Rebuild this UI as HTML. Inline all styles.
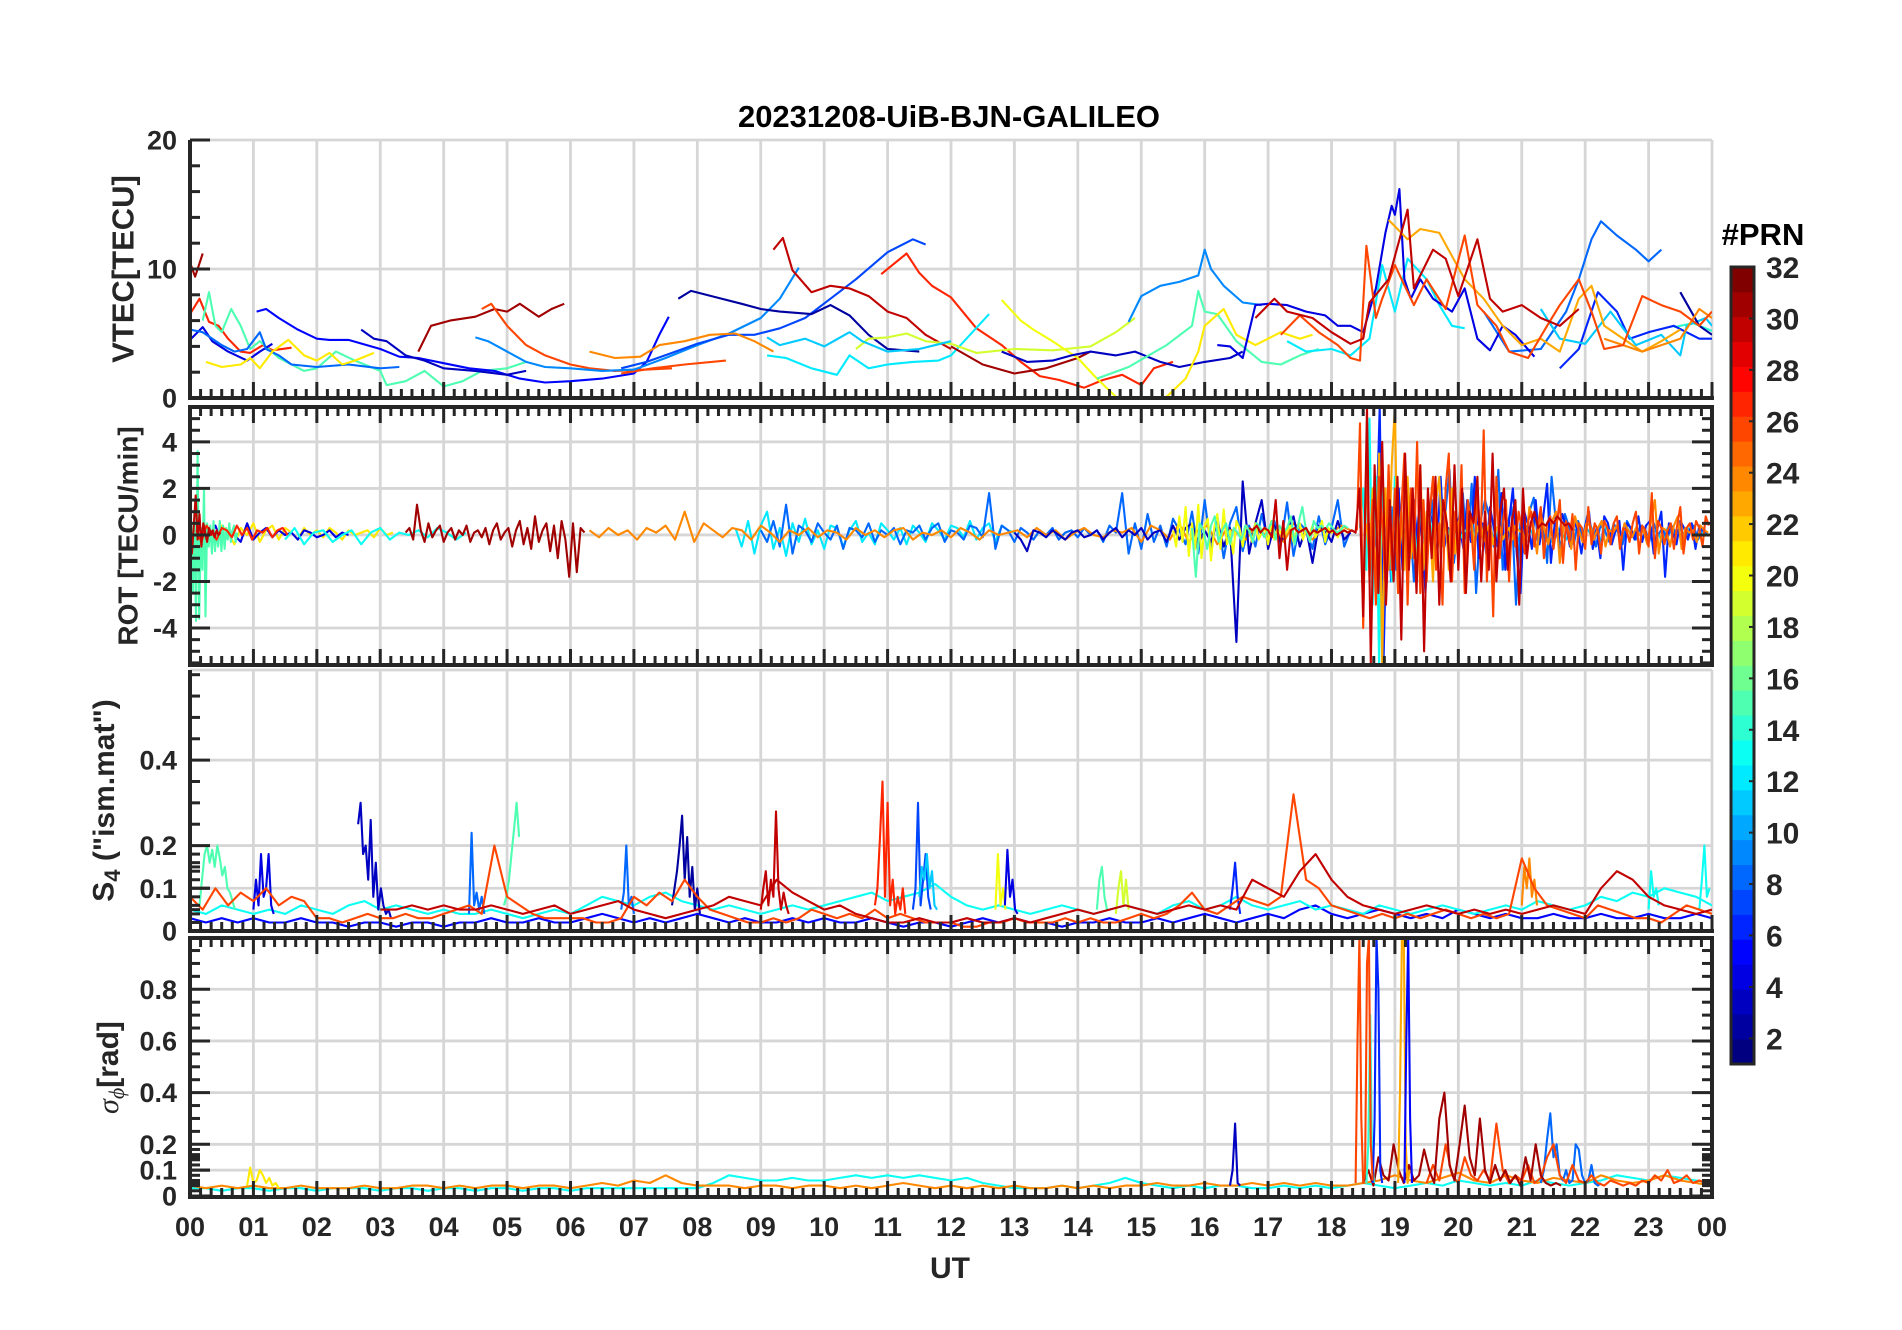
<!DOCTYPE html>
<html>
<head>
<meta charset="utf-8">
<style>
  html,body{margin:0;padding:0;background:#fff;}
  svg{display:block;font-family:"Liberation Sans",Arial,sans-serif;}
</style>
</head>
<body>
<svg id="fig" width="1902" height="1330" viewBox="0 0 1902 1330" xmlns="http://www.w3.org/2000/svg">
  <rect x="0" y="0" width="1902" height="1330" fill="#ffffff"/>
  <text x="949" y="127" text-anchor="middle" font-size="31" font-weight="bold" fill="#000">20231208-UiB-BJN-GALILEO</text>
  <text x="950" y="1278" text-anchor="middle" font-size="30" font-weight="bold" fill="#262626">UT</text>
  <g id="panels"></g>
  <g id="cbar"></g>
</svg>
<script>
// ---------------- DATA ----------------
const vtec_p31a=[[0,10.5],[0.08,9.4],[0.2,11.2]];
const vtec_p27a=[[0,6.5],[0.15,7.7],[0.3,5.9],[0.45,5.6],[0.6,4.6],[0.8,3.6],[0.95,3.5],[1.15,4.1],[1.3,3.7],[1.6,3.9]];
const vtec_p15a=[[0.2,6.0],[0.3,8.2],[0.4,5.6],[0.5,5.1],[0.65,6.9],[0.8,5.6],[0.95,3.8],[1.1,4.4],[1.4,3.1],[1.8,2.1],[2.0,2.3],[2.3,3.6],[2.6,2.9],[3.0,2.1],[3.1,1.0],[3.4,1.3],[3.7,2.1],[4.0,0.9],[4.3,1.3],[4.6,2.1],[5.0,2.3],[5.3,2.8]];
const vtec_p4a=[[0,4.5],[0.2,5.5],[0.35,4.4],[0.6,3.6],[0.9,2.9],[1.1,3.6],[1.3,4.2]];
const vtec_p8a=[[0,5.3],[0.2,5.1],[0.5,4.1],[0.7,3.6],[0.9,3.8],[1.1,5.1],[1.2,3.8],[1.4,3.3],[1.6,2.6],[2,2.4],[2.5,2.6],[3,2.3],[3.3,2.4]];
const vtec_p21a=[[0.25,2.8],[0.5,2.4],[0.8,2.6],[0.95,3.1],[1.1,2.3],[1.3,3.6],[1.55,4.5],[1.8,3.3],[2.0,2.9],[2.2,3.5],[2.4,2.6],[2.6,2.9],[2.9,3.5]];
const vtec_p5a=[[1.05,6.7],[1.2,6.9],[1.4,6.2],[1.7,5.3],[2.0,4.6],[2.2,4.5],[2.5,4.5],[3.0,3.8],[3.3,3.2],[3.6,3.1],[4,2.7],[4.4,2.3],[4.8,2.1],[5.2,1.5],[5.6,1.2],[6,1.3],[6.5,1.5],[7,1.9],[7.2,2.8],[7.4,4.9],[7.55,6.3]];
const vtec_p3a=[[2.7,5.3],[2.9,4.6],[3.1,4.4],[3.4,3.3],[3.7,2.9],[4,2.3],[4.5,2.1],[5,1.8],[5.3,2.1]];
const vtec_p31b=[[3.6,3.6],[3.8,5.6],[4.1,6.0],[4.5,6.3],[4.8,6.9],[5.0,6.7],[5.2,7.3],[5.5,6.3],[5.7,6.9],[5.9,7.3]];
const vtec_p26a=[[4.6,6.9],[4.75,7.3],[5.0,5.6],[5.3,4.1],[5.6,3.3],[6,2.6],[6.3,2.3],[6.7,2.1],[7.2,2.2],[7.6,2.3]];
const vtec_p26b=[[6.8,1.9],[7.3,2.3],[7.8,2.6],[8.45,2.9]];
const vtec_p9a=[[4.5,4.7],[4.7,4.4],[5.0,3.6],[5.3,2.8],[5.6,2.4],[6,2.3],[6.5,2.1],[7.0,2.2],[7.5,3.1],[8,4.1],[8.5,5.0],[9,6.2],[9.3,7.7],[9.6,10.1]];
const vtec_p7a=[[6.8,2.3],[7.2,2.8],[7.6,3.5],[8,4.2],[8.5,4.9],[8.9,4.9],[9.3,5.4],[9.7,6.2],[10.1,7.7],[10.5,9.2],[11,11.3],[11.4,12.3],[11.6,11.9]];
const vtec_p2a=[[7.7,7.7],[7.9,8.3],[8.3,7.8],[8.7,7.3],[9.0,6.9],[9.3,6.7],[9.8,6.5],[10.1,7.2],[10.4,6.4],[10.7,4.9],[11.0,3.8],[11.5,3.6]];
const vtec_p30a=[[9.2,11.5],[9.35,12.4],[9.5,9.9],[9.8,8.2],[10.1,8.7],[10.4,8.5],[10.7,7.9],[11.0,6.7],[11.3,6.2],[11.6,4.9],[12,3.8]];
const vtec_p27b=[[10.9,9.6],[11.1,10.4],[11.3,11.2],[11.5,9.7],[11.7,8.7],[12,7.8],[12.4,5.4],[12.8,4.1],[13.1,2.8],[13.4,1.7],[13.7,1.4],[14.1,0.8],[14.4,1.4],[14.7,1.8],[15.0,1.0],[15.2,2.3],[15.5,2.8]];
const vtec_p24a=[[6.3,3.6],[6.7,3.1],[7.1,3.2],[7.4,4.1],[7.8,4.4],[8.2,4.9],[8.6,5.0],[8.9,4.4],[9.2,3.6]];
const vtec_p12a=[[9.1,3.3],[9.4,3.1],[9.8,2.3],[10.2,1.8],[10.4,3.3],[10.7,2.3],[11,2.6],[11.4,2.8],[11.8,2.9],[12,3.3],[12.3,4.9],[12.6,6.5]];
const vtec_p19a=[[10.5,3.8],[10.7,4.6],[11,4.7],[11.3,5.0],[11.6,4.4],[12,4.2],[12.4,3.5],[13,3.8],[13.6,3.7],[14.2,4.0],[14.6,5.1],[14.9,6.2]];
const vtec_p11a=[[9.1,4.7],[9.3,4.1],[9.7,4.6],[10.0,4.0],[10.4,5.1],[10.6,4.4],[11,3.6],[11.5,3.8],[12,4.4]];
const vtec_p31c=[[12,4.0],[12.5,2.6],[13,1.9],[13.5,2.3],[14,3.1],[14.2,3.6]];
const vtec_p20a=[[12.8,7.6],[13.1,6.0],[13.3,5.3],[13.6,4.4],[14,3.1],[14.3,1.5],[14.6,0.1]];
const vtec_p3b=[[12.8,3.6],[13.2,2.8],[13.6,2.9],[13.9,3.3],[14.2,3.6],[14.6,3.3],[14.9,3.6],[15.3,2.8],[15.6,2.4],[16,2.8],[16.4,3.1],[16.6,3.6]];
const vtec_p15b=[[14.3,1.5],[14.8,2.4],[15.4,4.1],[15.8,5.6],[15.9,8.3],[16.0,6.7],[16.2,6.5],[16.5,4.4],[16.9,2.8],[17.2,2.6],[17.5,3.3],[17.8,3.8]];
const vtec_p9b=[[14.8,5.9],[15.0,7.9],[15.3,8.7],[15.6,9.0],[15.9,9.5],[16.0,11.5],[16.1,10.0],[16.3,8.7],[16.6,7.4],[16.9,7.2]];
const vtec_p21b=[[15.4,0.1],[15.7,1.5],[15.9,3.6],[16.0,5.6],[16.3,6.9],[16.5,4.9],[16.8,4.1],[17.2,5.1],[17.5,4.6],[17.7,4.9]];
const vtec_p4b=[[16.2,4.1],[16.4,4.0],[16.6,3.1],[16.8,7.2],[17.0,7.3],[17.3,7.2],[17.6,6.7],[17.9,6.4],[18.1,5.6],[18.3,5.6],[18.5,5.1],[18.7,8.5],[18.85,12.8],[18.95,14.9],[19.0,14.2],[19.07,16.2],[19.15,9.2],[19.25,7.7],[19.4,9.2],[19.6,7.7],[19.9,6.7],[20.1,8.5],[20.3,4.6],[20.5,3.7],[20.7,5.6],[20.9,4.9],[21.2,3.2]];
const vtec_p30b=[[16.8,6.2],[17.1,7.7],[17.3,6.7],[17.7,6.2],[18.0,5.1],[18.3,4.2],[18.5,4.6],[18.6,7.4],[18.9,9.2],[19.2,14.6],[19.3,8.5],[19.6,11.5],[19.8,10.8],[20.0,7.9],[20.3,12.3],[20.5,7.7],[20.7,6.7],[21.0,7.2],[21.3,6.2],[21.6,5.6],[21.9,6.9]];
const vtec_p12b=[[17.3,4.4],[17.6,3.6],[18.0,3.8],[18.3,3.3],[18.6,4.6],[18.8,10.3],[19.0,6.7],[19.2,10.8],[19.5,9.2],[19.7,7.2],[19.9,5.6],[20.1,5.4]];
const vtec_p26c=[[17.2,4.9],[17.5,6.4],[17.8,5.1],[18.1,4.1],[18.3,3.1],[18.45,2.9],[18.55,11.8],[18.7,6.2],[18.8,7.7],[19.0,10.3],[19.3,7.2],[19.5,9.2],[19.8,6.9],[20.1,12.6],[20.3,7.2],[20.6,5.6],[20.8,3.6],[21.1,3.1],[21.4,5.6],[21.6,7.2],[21.9,9.2],[22.1,6.7],[22.3,3.8],[22.6,4.1],[22.9,7.9],[23.2,7.2],[23.5,6.7],[23.8,5.6],[24,6.7]];
const vtec_p23a=[[18.9,13.8],[19.2,12.3],[19.4,13.1],[19.7,12.8],[19.9,11.0],[20.1,9.2],[20.4,7.7],[20.7,5.6],[21,4.1],[21.3,4.6],[21.6,3.6],[21.9,7.7],[22.1,8.7],[22.3,5.6],[22.6,4.6],[22.9,3.6],[23.2,4.4],[23.5,5.3]];
const vtec_p8b=[[20.4,6.7],[20.8,3.6],[21.3,3.8],[21.7,6.7],[21.9,9.2],[22.1,12.3],[22.25,13.7],[22.5,12.6],[22.8,11.5],[23.0,10.6],[23.2,11.5]];
const vtec_p6a=[[21.6,2.3],[21.9,3.8],[22.2,8.2],[22.5,6.7],[22.7,4.6],[23.0,5.1],[23.4,5.6],[23.8,4.6],[24,4.6]];
const vtec_p11b=[[21.3,6.9],[21.6,4.6],[22.0,4.2],[22.4,6.7],[22.8,4.1],[23.2,4.9],[23.5,3.3],[23.6,5.6],[23.9,6.2],[24,5.6]];
const vtec_p24b=[[22.3,4.6],[22.9,3.6],[23.5,4.6],[23.8,6.9],[24,6.2]];
const vtec_p2b=[[23.5,8.2],[23.8,5.6],[24,4.9]];
const vtec_p14a=[[23.4,5.5],[23.7,5.8],[24,5.2]];

const rot_p15a=[0.5,-2.5,1.0,-3.7,3.6,-3.6,0.3,-1.5,2.0,-3.5,0.5,-0.5,0.4,-0.8,0.6,-0.7,0.2,-0.5,0.6,-0.7,0.4,-0.6,0.3,-0.2,0.5,-0.3,0.2,0.4,-0.3,0.1];
const rot_p30a=[1.3,-0.8,0.4,1.7,-0.2,0.9,-0.5,0.5,0.1,-0.3,0.3,0.0,0.2,-0.1,0.2,0.0,0.1];
const rot_p27a=[0.2,-0.3,0.4,0.1,-0.2,0.3,0.2,-0.1,0.4,0.0,0.3,-0.2,0.2,0.1,0.3,-0.1,0.2,0.3,0.0];
const rot_p21a=[0.2,-0.3,0.4,0.1,-0.4,0.3,0.0,0.5,-0.3,0.2,0.4,-0.2,0.3,0.1,-0.2,0.3,0.0,0.2,-0.1,0.3,0.1,-0.2,0.2,0.0,0.1,0.2,-0.1,0.3,0.0,0.1];
const rot_p4a=[0.1,-0.5,0.3,-0.2,0.4,-0.3,0.2,0.0,-0.3,0.5,-0.2,0.1,0.3,-0.1,0.2,0.0,0.1,-0.2,0.2,0.1,-0.1,0.0,0.2,-0.1,0.1,0.0];
const rot_p13a=[-0.2,0.3,-0.4,0.1,0.2,-0.3,0.0,0.2,-0.4,0.1,0.3,-0.2,0.1,0.0,0.2,-0.1,0.3,0.1,-0.2,0.1];
const rot_p31a=[0.1,0.3,-0.2,1.3,0.2,-0.3,0.5,-0.1,0.2,0.4,-0.3,0.1,0.3,-0.2,0.2,0.0,0.4,-0.3,0.1,0.2,-0.1,0.3,-0.4,0.2,0.5,-0.2,0.1,0.3,-0.5,0.2,0.6,-0.4,0.3,-0.6,0.8,-0.3,0.2,0.5,-0.7,0.4,-1.0,0.6,-0.2,-1.8,0.5,-1.6,0.3,0.1];
const rot_p24a=[0.2,-0.1,0.3,0.0,0.2,-0.2,0.3,0.1,0.4,-0.2,1.0,-0.3,0.5,0.2,-0.1,0.3,0.2,-0.2,0.4,0.1,-0.3,0.2,0.0,0.3,-0.1,0.2,0.1,-0.2,0.3,0.0,0.2,-0.1,0.2,0.3,-0.2,0.1,0.0,0.2,-0.1,0.3,0.1,-0.2,0.2,0.0,0.1,0.2,-0.1,0.3,0.0,0.2,-0.2,0.1,0.3,0.0,-0.1,0.2,0.1,0.3,-0.3,0.4,0.2,-0.2,0.5,-0.3,0.2,0.4,-0.4,0.3,0.1,-0.2,0.4,0.0,0.3,-0.3,0.5,0.2,-0.2,0.3,0.1,0.4,0.2];
const rot_p12a=[0.3,-0.5,0.6,-0.8,0.4,1.0,-0.6,0.3,-0.9,0.5,-0.3,0.7,-0.4,0.2,-0.6,0.4,0.3,-0.5,0.2,0.6,-0.3,0.1,-0.4,0.5,0.2,-0.2,0.3,-0.4,0.4,0.1,-0.3,0.5,0.2,-0.2,0.4,0.3,-0.1,0.6,-0.2,0.3,0.5,-0.3,0.4,0.2,0.1];
const rot_p8a=[0.2,-0.3,0.6,-0.5,1.3,-0.8,0.4,0.2,-0.3,0.5,0.1,-0.2,0.4,-0.6,0.3,0.2,-0.1,0.5,-0.3,0.2,0.0,0.3,-0.4,0.2,0.1,0.4,-0.2,0.3,0.5,-0.3,0.2,0.1,-0.2,0.4,0.3,-0.1,1.8,-0.6,0.4,0.2,-0.3,0.3,0.1,-0.2,0.2,0.0,0.3,-0.2,0.1,0.2,-0.1,0.3,0.0,0.2,-0.3,0.4,0.1,1.8,-0.8,0.5,-0.6,0.9,-0.3,0.4,-0.5,0.7,0.2,-0.4,1.0,-0.8,1.5,-0.6,0.8,-1.0,0.5,1.2,-0.7,0.4,-0.5,0.9,-0.3,0.6,-0.4,1.4,-0.9,0.5,0.2,-0.6,0.8,-0.4,0.3,1.5,-0.5,0.2];
const rot_p3a=[0.1,-0.2,-0.7,0.2,0.1,-0.1,0.2,0.0,-0.2,0.1,0.2,-0.1,0.0,0.2,-0.2,0.1,0.3,-0.1,0.2,0.0,0.3,-0.2,0.1,0.2,-0.3,0.4,-0.2,0.3,0.5,-0.4,0.2,-0.3,0.6,-0.5,0.3,-4.6,2.3,-0.8,0.5,1.5,-0.6,0.4,-0.3,0.2,0.8,-0.5,0.3,-1.2,0.4,0.2,-0.3,0.6,-0.2,0.1];
const rot_p20a=[0.2,-0.5,0.8,-0.3,1.2,-0.9,0.5,-0.6,1.3,-1.0,0.4,0.7,-1.1,0.3,0.9,-0.6,1.1,-0.4,0.2,-0.8,0.6,0.3,-0.5,0.4,0.2,-0.3,0.5,-0.2,0.1,0.3,-0.4,0.6,-0.2,0.3,0.1,-0.1,0.2,0.4,-0.3,0.2,0.5,-0.2,0.3,0.0,0.4,-0.1,0.2,0.6,-0.3,0.3,0.1,0.2,-0.1,0.3,0.2,0.1];
const rot_p15b=[0.3,-1.8,0.5,0.2,-0.6,0.4,0.8,-0.3,0.2,0.5,-0.4,0.3,0.1,-0.2,0.4,0.2,-0.3,0.5,0.3,-0.1,0.2,0.6,-0.2,0.4,0.1,0.3,0.8,-0.4,0.5,1.2,0.2,-0.3,0.6,0.3,0.4,0.2,0.5,0.3,0.1,0.2,0.4,0.3];
const rot_p13b=[0.3,2.0,-1.5,5.0,-3.0,2.5,-5.5,3.0,-1.0,1.5,-2.0,2.5,-0.5,1.0,-1.5,2.0,-0.3,0.5,-1.0,1.2,0.3,-0.5,0.8,-0.4,0.6,0.2,-0.3,0.5,0.1,-0.2,0.4,0.3,-0.1,0.2,0.1,0.3,0.0,0.2,0.1,0.2];
const rot_p6a=[-0.5,5.5,-5.5,1.5,-2.0,1.0,2.0,-1.5,0.5,-1.0,1.5,-0.5,0.8,-2.5,1.0,0.5,-1.0,2.5,-0.5,0.3,-1.2,0.8,0.4,-0.6,1.5,-0.3,2.5,-1.0,0.5,-0.8,1.2,0.3,-0.5,1.8,-1.5,0.6,2.0,-0.8,-2.5,1.0,0.4,-0.6,1.5,-0.4,0.8,2.2,-1.2,0.5,-0.3,0.9,0.4,-0.5,0.6,0.2,-0.8,0.4,1.0,-0.6,0.3,-1.0,0.8,0.5,-0.4,0.2,0.6,-1.5,0.5,0.3,-0.2,0.8,-0.3,0.4,0.6,-0.8,0.3,1.0,-1.8,0.5,0.2,-0.4,0.6,0.3,-0.2,0.5,-0.6,0.4,0.2,0.1];
const rot_p8b=[0.5,-1.0,1.5,-0.8,0.3,1.2,-1.5,0.6,-0.4,1.0,-2.0,0.8,0.2,-0.6,1.5,-1.0,0.4,0.8,2.8,-1.2,0.5,1.8,-0.8,2.2,-2.5,0.6,1.5,0.8,-0.5,2.8,-1.5,0.4,1.2,-3.0,0.6,-0.8,1.0,1.6,-0.4,0.7,-1.2,2.5,0.5,-0.6,0.9,0.3,-0.4,0.6,-0.2,0.8,0.3,-0.5,0.4,0.2,-0.3,0.5,0.1,-0.4,0.6,0.2,-0.2,0.4,0.3,-0.3,0.5,0.0,0.3,-0.2,0.4,0.1,0.3,-0.1,0.2,0.4,-0.2,0.3,0.1];
const rot_p11a=[0.2,-0.3,0.5,-0.6,0.3,0.1,-0.4,0.4,0.2,-0.2,0.3,0.0,-0.3,0.4,0.1,-0.2,0.3,0.2,-0.1,0.3,0.0,0.2,-0.3,0.4,0.1,0.2,-0.2,0.3,0.0,0.1,0.4,-0.2,0.2,0.1,-0.3,0.3,0.0,0.2,-0.1,0.3,0.1,-0.2,0.2,0.0];
const rot_p24b=[0.3,-0.5,1.2,0.4,-0.8,0.9,0.2,-0.4,0.6,1.0,-1.2,0.5,0.3,-0.6,0.8,0.2,-0.3,0.5,0.4,-0.2,0.3,0.6,-0.5,0.2,0.1,0.4,-0.3,0.5,0.2,-0.1,0.3,0.0,0.2,-0.4,0.6,1.5,-0.8,0.3,0.2,-0.5,0.4,0.8,-0.6,0.3,0.1,0.2,-0.3,0.4,0.2,0.1];
const rot_p23a=[0.5,-1.0,2.0,-2.5,3.5,-5.5,2.0,-1.5,3.0,5.5,-2.5,1.0,-1.5,2.5,-1.0,0.5,-2.0,3.0,-1.5,1.0,0.5,-2.0,1.5,2.5,-0.5,1.0,-1.5,2.0,-0.8,0.5,1.0,-1.0,0.3,0.8,-0.5,0.3,0.6,-0.3,0.2,0.5,-0.4,0.3,0.4,-0.2,0.1,0.3,-0.2,0.4,0.2,0.1];
const rot_p26a=[0.2,4.8,-4.0,3.5,-2.0,1.5,-3.0,2.5,0.5,-2.0,3.0,-1.5,2.0,-2.5,1.0,3.5,-3.0,2.0,-1.0,4.0,-2.5,1.5,-2.0,1.0,2.5,-1.5,0.5,-3.0,2.0,3.5,-2.0,1.0,-1.0,3.0,-2.5,1.5,0.5,-1.5,2.0,-0.5,4.5,-2.0,1.0,-3.5,2.5,-1.0,0.5,1.5,-2.0,0.8,-0.5,1.0,0.3,-0.8,0.6,1.0,-0.5,0.3,1.2,-1.0,0.5,0.8,-0.6,0.4,1.5,-1.2,0.6,-0.3,0.9,-1.5,0.5,0.3,-0.6,1.2,-0.4,0.5,0.2,-0.8,0.6,0.3,-0.4,0.5,0.8,-0.6,0.3,0.2,-0.3,0.5,1.0,-0.8,0.4,0.2,-0.5,1.8,-1.0,0.6,0.3,-0.4,0.2,0.5,-0.6,0.4,1.2,-0.8,0.3,0.5,-0.2,0.6,0.3,-0.5,0.8,0.4];
const rot_p30b=[0.3,0.2,0.4,0.1,0.3,0.2,-0.1,1.5,-1.0,0.6,-1.5,0.2,0.3,0.1,0.2,0.3,0.0,0.2,0.1,0.2,0.3,0.1,0.2,0.0,0.1,0.2,0.1,0.2,0.1,2.0,-3.5,5.5,-5.5,3.0,-2.5,4.0,-3.0,1.5,-2.0,2.5,-4.5,3.5,-1.5,2.0,-2.5,3.0,-5.0,2.0,-1.0,2.5,-3.0,1.5,0.5,-2.0,3.0,-1.5,2.0,-2.5,1.0,0.5,2.5,-2.0,1.0,-1.5,3.5,-2.0,1.0,2.0,-1.5,0.5,1.5,-3.0,2.0,-1.0,0.5,1.0,0.3,0.5,0.4,0.7,0.5,0.8,0.6,0.4,0.5,0.2];

const s4_p5=[0.03,0.02,0.03,0.02,0.03,0.02,0.02,0.03,0.02,0.02,0.01,0.02,0.02,0.01,0.02,0.02,0.01,0.02,0.02,0.03,0.02,0.02,0.03,0.02,0.02,0.03,0.04,0.03,0.02,0.03,0.02,0.03,0.04,0.03,0.02,0.03,0.02,0.02,0.03,0.02,0.03,0.02,0.02,0.03,0.02,0.01,0.02,0.02,0.01,0.02,0.03,0.02,0.03,0.02,0.02,0.01,0.02,0.02,0.03,0.02,0.02,0.03,0.02,0.03,0.04,0.03,0.02,0.03,0.04,0.03,0.05,0.06,0.04,0.03,0.04,0.05,0.04,0.03,0.04,0.03,0.05,0.04,0.03,0.04,0.03,0.03,0.04,0.03,0.03,0.04,0.03,0.03,0.04,0.03,0.03,0.04,0.03];
const s4_p13=[0.05,0.04,0.06,0.05,0.04,0.05,0.04,0.06,0.05,0.04,0.06,0.07,0.05,0.06,0.05,0.04,0.05,0.04,0.04,0.05,0.04,0.03,0.04,0.05,0.04,0.06,0.08,0.07,0.06,0.08,0.09,0.07,0.06,0.05,0.06,0.05,0.04,0.05,0.06,0.05,0.06,0.07,0.08,0.09,0.07,0.08,0.09,0.11,0.08,0.06,0.05,0.06,0.05,0.04,0.05,0.06,0.05,0.04,0.05,0.06,0.05,0.04,0.06,0.07,0.05,0.06,0.08,0.06,0.05,0.06,0.07,0.05,0.06,0.05,0.04,0.06,0.05,0.04,0.05,0.06,0.05,0.04,0.05,0.06,0.05,0.07,0.06,0.05,0.06,0.08,0.07,0.09,0.08,0.10,0.09,0.08,0.06];
const s4_p30=[0.05,0.05,0.06,0.05,0.06,0.05,0.05,0.06,0.05,0.04,0.05,0.06,0.04,0.05,0.06,0.07,0.05,0.04,0.03,0.04,0.05,0.06,0.08,0.07,0.06,0.12,0.09,0.07,0.05,0.06,0.04,0.03,0.02,0.02,0.03,0.02,0.02,0.03,0.02,0.02,0.03,0.02,0.03,0.04,0.05,0.04,0.05,0.06,0.05,0.04,0.05,0.06,0.05,0.06,0.05,0.12,0.10,0.08,0.14,0.18,0.12,0.08,0.06,0.05,0.04,0.05,0.06,0.05,0.04,0.05,0.04,0.05,0.04,0.05,0.06,0.05,0.04,0.10,0.14,0.12,0.08,0.06,0.05,0.04,0.05];
const s4_p26=[0.08,0.05,0.1,0.06,0.09,0.07,0.1,0.06,0.08,0.07,0.03,0.03,0.02,0.03,0.04,0.03,0.03,0.04,0.03,0.03,0.04,0.05,0.06,0.04,0.2,0.08,0.06,0.04,0.03,0.03,0.03,0.03,0.02,0.02,0.03,0.08,0.06,0.09,0.07,0.12,0.08,0.05,0.04,0.03,0.02,0.02,0.03,0.02,0.03,0.05,0.04,0.03,0.04,0.03,0.05,0.03,0.04,0.03,0.02,0.02,0.02,0.01,0.01,0.02,0.02,0.03,0.02,0.02,0.02,0.03,0.02,0.03,0.02,0.02,0.03,0.04,0.03,0.04,0.06,0.09,0.05,0.04,0.06,0.08,0.07,0.06,0.08,0.32,0.12,0.10,0.06,0.05,0.04,0.03,0.04,0.03,0.04,0.03,0.04,0.05,0.04,0.03,0.04,0.03,0.04,0.17,0.10,0.06,0.05,0.04,0.03,0.06,0.05,0.04,0.03,0.03,0.02,0.04,0.06,0.05,0.04];
const s4b_p15a=[0.06,0.12,0.18,0.2,0.16,0.19,0.15,0.2,0.17,0.13,0.15,0.1,0.09,0.07,0.05];
const s4b_p15b=[0.06,0.08,0.12,0.18,0.24,0.3,0.22];
const s4b_p15c=[0.05,0.12,0.15,0.08,0.05];
const s4b_p4a=[0.05,0.12,0.06,0.18,0.08,0.1,0.18,0.06,0.04];
const s4b_p3a=[0.25,0.3,0.18,0.2,0.12,0.26,0.08,0.16,0.05,0.1,0.06,0.04,0.05,0.03];
const s4b_p8a=[0.04,0.23,0.06,0.09,0.05,0.08,0.04];
const s4b_p8b=[0.05,0.09,0.2,0.06,0.08,0.04];
const s4b_p2a=[0.06,0.1,0.14,0.2,0.27,0.12,0.22,0.08,0.15,0.05,0.1,0.04];
const s4b_p30a=[0.05,0.1,0.14,0.06,0.12,0.08,0.28,0.1,0.05,0.09,0.06,0.04];
const s4b_p27a=[0.06,0.1,0.22,0.35,0.08,0.3,0.06,0.12,0.04,0.08,0.05,0.1,0.04];
const s4b_p7a=[0.05,0.1,0.3,0.06,0.12,0.18,0.08,0.05];
const s4b_p11a=[0.08,0.15,0.12,0.18,0.1,0.14,0.06,0.05];
const s4b_p20a=[0.05,0.18,0.06,0.1,0.05];
const s4b_p4b=[0.06,0.19,0.08,0.12,0.05,0.04];
const s4b_p19a=[0.04,0.1,0.14,0.06,0.12,0.05];
const s4b_p6a=[0.05,0.1,0.16,0.08,0.04];
const s4b_p24a=[0.06,0.15,0.1,0.17,0.08,0.12,0.06];
const s4b_p13a=[0.05,0.14,0.08,0.1,0.06];
const s4b_p13b=[0.05,0.12,0.2,0.08,0.1];

const sp_p24=[0.04,0.03,0.04,0.03,0.04,0.03,0.03,0.04,0.03,0.03,0.03,0.04,0.03,0.03,0.04,0.04,0.03,0.04,0.03,0.04,0.04,0.03,0.04,0.04,0.03,0.04,0.05,0.04,0.06,0.05,0.08,0.05,0.04,0.04,0.04,0.03,0.04,0.04,0.03,0.04,0.04,0.03,0.04,0.03,0.04,0.05,0.04,0.03,0.04,0.03,0.04,0.03,0.04,0.03,0.03,0.04,0.03,0.04,0.03,0.04,0.04,0.05,0.04,0.04,0.05,0.04,0.04,0.05,0.04,0.05,0.04,0.05,0.04,0.04,0.05,0.06,0.08,0.06,0.05,0.07,0.09,0.06,0.05,0.08,0.06,0.05,0.07,0.06,0.05,0.08,0.06,0.05,0.06,0.08,0.06,0.05,0.04];
const sp_p13=[0.03,0.03,0.02,0.03,0.03,0.02,0.03,0.03,0.02,0.03,0.03,0.03,0.02,0.03,0.03,0.02,0.03,0.03,0.02,0.03,0.03,0.02,0.03,0.03,0.02,0.03,0.03,0.03,0.03,0.03,0.03,0.03,0.03,0.05,0.08,0.07,0.06,0.06,0.07,0.06,0.06,0.07,0.08,0.07,0.08,0.07,0.08,0.07,0.06,0.07,0.05,0.04,0.03,0.03,0.03,0.04,0.03,0.04,0.05,0.07,0.05,0.04,0.03,0.04,0.03,0.04,0.04,0.03,0.03,0.04,0.03,0.04,0.03,0.04,0.05,0.04,0.03,0.04,0.05,0.04,0.06,0.05,0.04,0.05,0.04,0.06,0.05,0.04,0.05,0.06,0.08,0.07,0.06,0.08,0.07,0.06,0.05];
const sp_p21=[0.04,0.11,0.05,0.06,0.1,0.08,0.05,0.07,0.04,0.05,0.03];
const sp_p26a=[0.05,0.6,1.0,0.3,0.05,0.1,0.9,1.0,0.2,0.06];
const sp_p14a=[0.05,0.2,0.7,0.15,0.05];
const sp_p6a=[0.05,0.3,1.0,0.8,0.1,0.05];
const sp_p23a=[0.05,0.4,1.0,1.0,0.2,0.05,0.1];
const sp_p5a=[0.05,0.6,1.0,0.3,0.05];
const sp_p31a=[0.05,0.1,0.04,0.15,0.08,0.06,0.2,0.1,0.05,0.12,0.06,0.08,0.18,0.1,0.05,0.3,0.4,0.12,0.06,0.2,0.35,0.15,0.08,0.3,0.1,0.05,0.12,0.06,0.1,0.05,0.08,0.04,0.15,0.06,0.2,0.08,0.05,0.04,0.05,0.04];
const sp_p26b=[0.05,0.12,0.06,0.2,0.08,0.05,0.15,0.08,0.06,0.1,0.06,0.28,0.1,0.05,0.08,0.06,0.12,0.05,0.07,0.15,0.2,0.08,0.05,0.12,0.06,0.05,0.08,0.05,0.04,0.06,0.05,0.04,0.05,0.04,0.06,0.05,0.08,0.06,0.1,0.05,0.06,0.08,0.05,0.06,0.05,0.04];
const sp_p8a=[0.05,0.1,0.22,0.32,0.15,0.2,0.08,0.06,0.1,0.05,0.06,0.2,0.18,0.08,0.05,0.06,0.12,0.05,0.04,0.05];
const sp_p3a=[0.04,0.1,0.28,0.05,0.04];

const xTickLabels=["00","01","02","03","04","05","06","07","08","09","10","11","12","13","14","15","16","17","18","19","20","21","22","23","00"];
const vtecTicks=[0,10,20];
const rotTicks=[-4,-2,0,2,4];
const s4Ticks=[0,0.1,0.2,0.4];
const sigTicks=[0,0.1,0.2,0.4,0.6,0.8];
const cbarTicks=[2,4,6,8,10,12,14,16,18,20,22,24,26,28,30,32];

// ---------------- DRAWING ----------------
const NS="http://www.w3.org/2000/svg";
const svg=document.getElementById('fig');
const panelsG=document.getElementById('panels');
const X0=190,X1=1712;
const AX="#262626",GRID="#d6d6d6";
function el(tag,attrs,parent){const e=document.createElementNS(NS,tag);for(const k in attrs)e.setAttribute(k,attrs[k]);(parent||svg).appendChild(e);return e;}
function jet(p){const t=(p-1)/31;const c=v=>Math.max(0,Math.min(1,v));
  const r=c(Math.min(4*t-1.5,-4*t+4.5)),g=c(Math.min(4*t-0.5,-4*t+3.5)),b=c(Math.min(4*t+0.5,-4*t+2.5));
  return `rgb(${Math.round(r*255)},${Math.round(g*255)},${Math.round(b*255)})`;}
const xs=h=>X0+(X1-X0)*h/24;
function seq(t0,dt,vals){return vals.map((v,i)=>[t0+i*dt,v]);}

const panels=[
 {key:'vtec',y0:140,y1:398,lo:0,hi:20,ticks:vtecTicks,minor:2,fine:null,box:false,label:'VTEC[TECU]',lx:123,fs:31},
 {key:'rot',y0:407,y1:665,lo:-5.59,hi:5.5,ticks:rotTicks,minor:0.5,fine:null,box:true,label:'ROT [TECU/min]',lx:128,fs:28},
 {key:'s4',y0:670,y1:931,lo:0,hi:0.611,ticks:s4Ticks,minor:0.05,fine:0.02,box:false,label:'s4',lx:104,fs:30},
 {key:'sig',y0:938,y1:1197,lo:-0.004,hi:0.9985,ticks:sigTicks,minor:0.05,fine:0.02,box:true,label:'sig',lx:108,fs:30}
];

const seriesByPanel={
 vtec:[[31,vtec_p31a],[27,vtec_p27a],[15,vtec_p15a],[4,vtec_p4a],[8,vtec_p8a],[21,vtec_p21a],[5,vtec_p5a],[3,vtec_p3a],[31,vtec_p31b],[26,vtec_p26a],[26,vtec_p26b],[9,vtec_p9a],[7,vtec_p7a],[2,vtec_p2a],[30,vtec_p30a],[27,vtec_p27b],[24,vtec_p24a],[12,vtec_p12a],[19,vtec_p19a],[11,vtec_p11a],[31,vtec_p31c],[20,vtec_p20a],[3,vtec_p3b],[15,vtec_p15b],[9,vtec_p9b],[21,vtec_p21b],[12,vtec_p12b],[14,vtec_p14a],[8,vtec_p8b],[6,vtec_p6a],[11,vtec_p11b],[2,vtec_p2b],[4,vtec_p4b],[23,vtec_p23a],[24,vtec_p24b],[26,vtec_p26c],[30,vtec_p30b]],
 rot:[[21,seq(0.3,0.1,rot_p21a)],[4,seq(0,0.1,rot_p4a)],[13,seq(1.5,0.15,rot_p13a)],[15,seq(0.02,0.025,rot_p15a)],[27,seq(0.1,0.08,rot_p27a)],[30,seq(0,0.03,rot_p30a)],[31,seq(3.4,0.06,rot_p31a)],[12,seq(8.6,0.1,rot_p12a)],[8,seq(9.0,0.1,rot_p8a)],[24,seq(6.3,0.15,rot_p24a)],[3,seq(13.0,0.1,rot_p3a)],[20,seq(15.5,0.05,rot_p20a)],[15,seq(15.8,0.06,rot_p15b)],[11,seq(20.5,0.08,rot_p11a)],[8,seq(18.6,0.07,rot_p8b)],[6,seq(18.7,0.06,rot_p6a)],[13,seq(18.45,0.05,rot_p13b)],[23,seq(18.55,0.05,rot_p23a)],[24,seq(21.0,0.06,rot_p24b)],[26,seq(18.4,0.05,rot_p26a)],[30,seq(16.7,0.06,rot_p30b)]],
 s4:[[5,seq(0,0.25,s4_p5)],[13,seq(0,0.25,s4_p13)],[15,seq(0.15,0.04,s4b_p15a)],[15,seq(4.95,0.04,s4b_p15b)],[15,seq(14.3,0.04,s4b_p15c)],[4,seq(1.0,0.04,s4b_p4a)],[3,seq(2.65,0.04,s4b_p3a)],[8,seq(4.4,0.04,s4b_p8a)],[8,seq(6.8,0.04,s4b_p8b)],[2,seq(7.6,0.04,s4b_p2a)],[7,seq(11.4,0.04,s4b_p7a)],[11,seq(11.5,0.04,s4b_p11a)],[20,seq(12.7,0.04,s4b_p20a)],[4,seq(12.85,0.04,s4b_p4b)],[19,seq(14.6,0.04,s4b_p19a)],[6,seq(16.4,0.04,s4b_p6a)],[13,seq(23.0,0.04,s4b_p13a)],[13,seq(23.8,0.04,s4b_p13b)],[24,seq(21.0,0.04,s4b_p24a)],[26,seq(0,0.2,s4_p26)],[30,seq(3,0.25,s4_p30)],[30,seq(9.0,0.04,s4b_p30a)],[27,seq(10.8,0.04,s4b_p27a)]],
 sig:[[13,seq(0,0.25,sp_p13)],[24,seq(0,0.25,sp_p24)],[21,seq(0.9,0.05,sp_p21)],[3,seq(16.4,0.04,sp_p3a)],[8,seq(21.3,0.05,sp_p8a)],[26,seq(19.5,0.1,sp_p26b)],[31,seq(18.5,0.08,sp_p31a)],[14,seq(18.55,0.03,sp_p14a)],[6,seq(18.65,0.03,sp_p6a)],[23,seq(19.05,0.03,sp_p23a)],[5,seq(19.15,0.03,sp_p5a)],[26,seq(18.38,0.03,sp_p26a)]]
};

const defs=el('defs',{});
panels.forEach((P,pi)=>{
  const g=el('g',{},panelsG);
  
  
  const ys=v=>P.y1-(v-P.lo)/(P.hi-P.lo)*(P.y1-P.y0);
  const cp=el('clipPath',{id:'clip'+pi},defs);
  el('rect',{x:X0,y:P.y0,width:X1-X0,height:P.y1-P.y0},cp);
  const grid=el('g',{},g);
  
  
  for(let h=1;h<24;h++){el('line',{x1:xs(h),x2:xs(h),y1:P.y0,y2:P.y1,stroke:GRID,'stroke-width':2.8},grid);}
  P.ticks.forEach(v=>{const y=ys(v);if(y>P.y0+2&&y<P.y1-2)el('line',{x1:X0,x2:X1,y1:y,y2:y,stroke:GRID,'stroke-width':2.8},grid);});
  if(!P.box){el('line',{x1:X0,x2:X1,y1:P.y0,y2:P.y0,stroke:GRID,'stroke-width':2.8},grid);
             el('line',{x1:X1,x2:X1,y1:P.y0,y2:P.y1,stroke:GRID,'stroke-width':2.8},grid);}
  const dg=el('g',{'clip-path':`url(#clip${pi})`},g);
  
  
  seriesByPanel[P.key].forEach(([prn,pts])=>{
    const pl=el('polyline',{points:pts.map(p=>xs(p[0]).toFixed(1)+','+ys(p[1]).toFixed(1)).join(' '),fill:'none',stroke:jet(prn),'stroke-width':2.1,'stroke-linejoin':'round'},dg);
    
    
  });
  const ax=el('g',{stroke:AX,fill:'none'},g);
  
  
  el('line',{x1:X0,x2:X0,y1:P.y0,y2:P.y1+2,'stroke-width':4},ax);
  el('line',{x1:X0-2,x2:X1+2,y1:P.y1,y2:P.y1,'stroke-width':4},ax);
  if(P.box){el('line',{x1:X0-2,x2:X1+2,y1:P.y0,y2:P.y0,'stroke-width':4},ax);
            el('line',{x1:X1,x2:X1,y1:P.y0,y2:P.y1,'stroke-width':4},ax);}
  for(let k=0;k<=144;k++){const x=xs(k/6);const L=(k%6===0)?16:9;
    el('line',{x1:x,x2:x,y1:P.y1,y2:P.y1-L,'stroke-width':3},ax);
    if(P.box)el('line',{x1:x,x2:x,y1:P.y0,y2:P.y0+L,'stroke-width':3},ax);}
  const yt=[];
  const start=Math.ceil(P.lo/P.minor-1e-9);
  for(let k=start;k*P.minor<=P.hi+1e-9;k++)yt.push(+(k*P.minor).toFixed(4));
  if(P.fine){for(let v=P.fine;v<0.2-1e-9;v+=P.fine)yt.push(+v.toFixed(4));}
  yt.forEach(v=>{const y=ys(v);const major=P.ticks.some(t=>Math.abs(t-v)<1e-6);const L=major?20:10;
    el('line',{x1:X0,x2:X0+L,y1:y,y2:y,'stroke-width':3},ax);
    if(P.box)el('line',{x1:X1,x2:X1-L,y1:y,y2:y,'stroke-width':3},ax);});
  P.ticks.forEach(v=>{const t=el('text',{x:177,y:ys(v)+9.5,'text-anchor':'end','font-size':27,'font-weight':'bold',fill:AX},g);
    
    
    t.textContent=(v<0?'-':'')+String(Math.abs(v));});
  const cy=(P.y0+P.y1)/2;
  const lab=el('text',{x:P.lx,y:cy,transform:`rotate(-90 ${P.lx} ${cy})`,'text-anchor':'middle','dominant-baseline':'central','font-size':P.fs,'font-weight':'bold',fill:AX},g);
  
  
  if(P.label==='s4'){
    lab.innerHTML='S<tspan font-size="22" dy="8">4</tspan><tspan dy="-8"> ("ism.mat")</tspan>';
  }else if(P.label==='sig'){
    lab.setAttribute('font-weight','normal');
    lab.innerHTML='<tspan font-style="italic" font-family="Liberation Serif, serif">σ</tspan><tspan font-style="italic" font-family="Liberation Serif, serif" font-size="22" dy="8">ϕ</tspan><tspan dy="-8" font-weight="bold">[rad]</tspan>';
  }else lab.textContent=P.label;
});

xTickLabels.forEach((s,i)=>{const t=el('text',{x:xs(i),y:1236,'text-anchor':'middle','font-size':27,'font-weight':'bold',fill:AX});
  
  
  t.textContent=s;});

// colorbar
const cb=document.getElementById('cbar');
const CX0=1731,CX1=1754,CY0=267,CY1=1064;
const cyv=v=>CY1-(v-1)/31*(CY1-CY0);
const cellH=(CY1-CY0)/32;
for(let i=1;i<=32;i++){const r=el('rect',{x:CX0,y:CY1-i*cellH-0.3,width:CX1-CX0,height:cellH+0.6,fill:jet(i)},cb);
  
  }
el('rect',{x:CX0,y:CY0,width:CX1-CX0,height:CY1-CY0,fill:'none',stroke:AX,'stroke-width':3},cb);
cbarTicks.forEach(v=>{const y=cyv(v);
  el('line',{x1:CX1,x2:CX1-5,y1:y,y2:y,stroke:AX,'stroke-width':2},cb);
  const t=el('text',{x:1766,y:y+11,'font-size':30,'font-weight':'bold',fill:AX},cb);
  
  
  t.textContent=String(v);});
const cbt=el('text',{x:1763,y:245,'text-anchor':'middle','font-size':31,'font-weight':'bold',fill:'#000'},cb);


cbt.textContent='#PRN';
</script>
</body>
</html>
